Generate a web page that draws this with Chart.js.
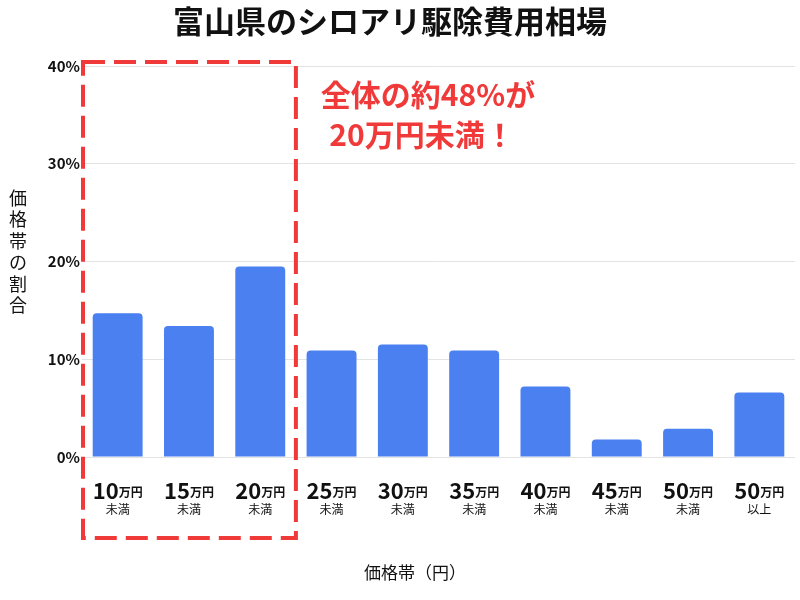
<!DOCTYPE html><html><head><meta charset="utf-8">
<script src="https://cdn.jsdelivr.net/npm/chart.js@4"></script>
<style>html,body{margin:0;background:#fff}#w{width:800px;height:600px}</style></head><body>
<div id="w"><canvas id="c"></canvas></div>
<script>
const categories=["10","15","20","25","30","35","40","45","50","50"];
const subLabels=["未満","未満","未満","未満","未満","未満","未満","未満","未満","以上"];
const values=[14.7,13.4,19.5,10.9,11.5,10.9,7.2,1.8,2.9,6.6];
const yTicks=[0,10,20,30,40];
const F='"Noto Sans CJK JP","Noto Sans",sans-serif';
const deco={id:'deco',afterDraw(ch){
 const c=ch.ctx,x=ch.scales.x,y=ch.scales.y;c.save();
 c.fillStyle='#111';c.textAlign='center';c.textBaseline='middle';
 c.font='bold 31px '+F;c.fillText('富山県のシロアリ駆除費用相場',390,21);
 c.font='bold 15px '+F;c.textAlign='right';
 yTicks.forEach(t=>c.fillText(t+'%',80,y.getPixelForValue(t)));
 categories.forEach((cat,i)=>{const px=x.getPixelForValue(i);
  c.font='bold 22px '+F;const w1=c.measureText(cat).width;c.font='bold 12px '+F;const w2=c.measureText('万円').width;
  const s=px-(w1+w2)/2;c.textAlign='left';c.textBaseline='alphabetic';
  c.font='bold 22px '+F;c.fillText(cat,s,499);c.font='bold 12px '+F;c.fillText('万円',s+w1,497);
  c.textAlign='center';c.textBaseline='middle';c.font='12px '+F;c.fillText(subLabels[i],px,509);});
 c.font='17px '+F;c.fillText('価格帯（円）',415,573);
 c.font='18px '+F;[...'価格帯の割合'].forEach((ch2,i)=>c.fillText(ch2,18,198+i*21.5));
 c.strokeStyle='#f03a3a';c.lineWidth=4;c.setLineDash([22,9]);
 const r=x.getPixelForValue(2.5);c.strokeRect(x.left+1,62,r-x.left-1,476);
 c.fillStyle='#f03a3a';c.font='bold 30px '+F;c.fillText('全体の約48%が',428,95);c.fillText('20万円未満！',422,135);
 c.restore();}};
new Chart(document.getElementById('c'),{type:'bar',data:{labels:categories.map((c,i)=>c+subLabels[i]),
 datasets:[{data:values,backgroundColor:'#4a80f0',borderRadius:4,borderSkipped:'bottom',barPercentage:0.7,categoryPercentage:1}]},
 options:{responsive:true,maintainAspectRatio:false,animation:false,layout:{padding:{top:66,left:82,right:5,bottom:135}},
 plugins:{legend:{display:false},tooltip:{enabled:false}},
 scales:{x:{ticks:{display:false},grid:{display:false},border:{display:false}},
 y:{min:0,max:40,ticks:{display:false,stepSize:10},grid:{color:'#e3e3e3',drawTicks:false},border:{display:false}}}},
 plugins:[deco]});
</script></body></html>
